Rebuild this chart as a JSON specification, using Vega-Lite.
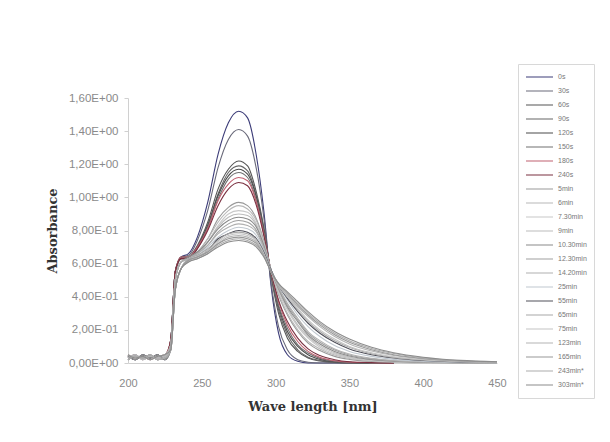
{
"$schema": "https://vega.github.io/schema/vega-lite/v6.json",
"width": 369, "height": 265,
"autosize": {"type": "none"},
"padding": {"left": 128, "top": 98, "right": 113, "bottom": 79},
"background": "#ffffff",
"config": {"view": {"stroke": null}},
"data": {"values": [
{"s":"0s","w":200,"a":0.04},{"s":"0s","w":205,"a":0.02},{"s":"0s","w":210,"a":0.05},{"s":"0s","w":215,"a":0.03},{"s":"0s","w":220,"a":0.05},{"s":"0s","w":225,"a":0.02},{"s":"0s","w":229,"a":0.14},{"s":"0s","w":232,"a":0.55},{"s":"0s","w":236,"a":0.64},{"s":"0s","w":241,"a":0.66},{"s":"0s","w":247,"a":0.76},{"s":"0s","w":254,"a":0.97},{"s":"0s","w":261,"a":1.26},{"s":"0s","w":268,"a":1.45},{"s":"0s","w":275,"a":1.52},{"s":"0s","w":281,"a":1.48},{"s":"0s","w":287,"a":1.25},{"s":"0s","w":292,"a":0.92},{"s":"0s","w":297,"a":0.46},{"s":"0s","w":302,"a":0.18},{"s":"0s","w":308,"a":0.05},{"s":"0s","w":315,"a":0.01},{"s":"0s","w":322,"a":0},{"s":"0s","w":330,"a":0},{"s":"0s","w":340,"a":0},{"s":"0s","w":350,"a":0},{"s":"0s","w":365,"a":0},{"s":"0s","w":380,"a":0},
{"s":"30s","w":200,"a":0.02},{"s":"30s","w":205,"a":0.04},{"s":"30s","w":210,"a":0.03},{"s":"30s","w":215,"a":0.05},{"s":"30s","w":220,"a":0.02},{"s":"30s","w":225,"a":0.03},{"s":"30s","w":229,"a":0.14},{"s":"30s","w":232,"a":0.55},{"s":"30s","w":236,"a":0.64},{"s":"30s","w":241,"a":0.65},{"s":"30s","w":247,"a":0.74},{"s":"30s","w":254,"a":0.92},{"s":"30s","w":261,"a":1.18},{"s":"30s","w":268,"a":1.35},{"s":"30s","w":275,"a":1.41},{"s":"30s","w":281,"a":1.37},{"s":"30s","w":287,"a":1.17},{"s":"30s","w":292,"a":0.88},{"s":"30s","w":297,"a":0.48},{"s":"30s","w":302,"a":0.22},{"s":"30s","w":308,"a":0.08},{"s":"30s","w":315,"a":0.02},{"s":"30s","w":322,"a":0.005},{"s":"30s","w":330,"a":0},{"s":"30s","w":340,"a":0},{"s":"30s","w":350,"a":0},{"s":"30s","w":365,"a":0},{"s":"30s","w":380,"a":0},
{"s":"60s","w":200,"a":0.05},{"s":"60s","w":205,"a":0.03},{"s":"60s","w":210,"a":0.04},{"s":"60s","w":215,"a":0.02},{"s":"60s","w":220,"a":0.04},{"s":"60s","w":225,"a":0.05},{"s":"60s","w":229,"a":0.14},{"s":"60s","w":232,"a":0.55},{"s":"60s","w":236,"a":0.63},{"s":"60s","w":241,"a":0.64},{"s":"60s","w":247,"a":0.71},{"s":"60s","w":254,"a":0.85},{"s":"60s","w":261,"a":1.05},{"s":"60s","w":268,"a":1.17},{"s":"60s","w":275,"a":1.22},{"s":"60s","w":281,"a":1.19},{"s":"60s","w":287,"a":1.03},{"s":"60s","w":292,"a":0.82},{"s":"60s","w":297,"a":0.52},{"s":"60s","w":302,"a":0.30},{"s":"60s","w":308,"a":0.15},{"s":"60s","w":315,"a":0.07},{"s":"60s","w":322,"a":0.03},{"s":"60s","w":330,"a":0.012},{"s":"60s","w":340,"a":0.004},{"s":"60s","w":350,"a":0},{"s":"60s","w":365,"a":0},{"s":"60s","w":380,"a":0},
{"s":"90s","w":200,"a":0.03},{"s":"90s","w":205,"a":0.05},{"s":"90s","w":210,"a":0.02},{"s":"90s","w":215,"a":0.04},{"s":"90s","w":220,"a":0.03},{"s":"90s","w":225,"a":0.04},{"s":"90s","w":229,"a":0.14},{"s":"90s","w":232,"a":0.55},{"s":"90s","w":236,"a":0.63},{"s":"90s","w":241,"a":0.63},{"s":"90s","w":247,"a":0.70},{"s":"90s","w":254,"a":0.83},{"s":"90s","w":261,"a":1.02},{"s":"90s","w":268,"a":1.15},{"s":"90s","w":275,"a":1.19},{"s":"90s","w":281,"a":1.16},{"s":"90s","w":287,"a":1.01},{"s":"90s","w":292,"a":0.81},{"s":"90s","w":297,"a":0.53},{"s":"90s","w":302,"a":0.32},{"s":"90s","w":308,"a":0.17},{"s":"90s","w":315,"a":0.08},{"s":"90s","w":322,"a":0.035},{"s":"90s","w":330,"a":0.015},{"s":"90s","w":340,"a":0.005},{"s":"90s","w":350,"a":0.002},{"s":"90s","w":365,"a":0},{"s":"90s","w":380,"a":0},
{"s":"120s","w":200,"a":0.04},{"s":"120s","w":205,"a":0.02},{"s":"120s","w":210,"a":0.05},{"s":"120s","w":215,"a":0.03},{"s":"120s","w":220,"a":0.05},{"s":"120s","w":225,"a":0.02},{"s":"120s","w":229,"a":0.14},{"s":"120s","w":232,"a":0.55},{"s":"120s","w":236,"a":0.64},{"s":"120s","w":241,"a":0.64},{"s":"120s","w":247,"a":0.70},{"s":"120s","w":254,"a":0.83},{"s":"120s","w":261,"a":1.01},{"s":"120s","w":268,"a":1.13},{"s":"120s","w":275,"a":1.17},{"s":"120s","w":281,"a":1.14},{"s":"120s","w":287,"a":1.00},{"s":"120s","w":292,"a":0.80},{"s":"120s","w":297,"a":0.54},{"s":"120s","w":302,"a":0.34},{"s":"120s","w":308,"a":0.19},{"s":"120s","w":315,"a":0.10},{"s":"120s","w":322,"a":0.05},{"s":"120s","w":330,"a":0.022},{"s":"120s","w":340,"a":0.008},{"s":"120s","w":350,"a":0.003},{"s":"120s","w":365,"a":0.001},{"s":"120s","w":380,"a":0},
{"s":"150s","w":200,"a":0.02},{"s":"150s","w":205,"a":0.04},{"s":"150s","w":210,"a":0.03},{"s":"150s","w":215,"a":0.05},{"s":"150s","w":220,"a":0.02},{"s":"150s","w":225,"a":0.03},{"s":"150s","w":229,"a":0.14},{"s":"150s","w":232,"a":0.55},{"s":"150s","w":236,"a":0.63},{"s":"150s","w":241,"a":0.63},{"s":"150s","w":247,"a":0.69},{"s":"150s","w":254,"a":0.82},{"s":"150s","w":261,"a":0.99},{"s":"150s","w":268,"a":1.11},{"s":"150s","w":275,"a":1.15},{"s":"150s","w":281,"a":1.12},{"s":"150s","w":287,"a":0.98},{"s":"150s","w":292,"a":0.79},{"s":"150s","w":297,"a":0.54},{"s":"150s","w":302,"a":0.35},{"s":"150s","w":308,"a":0.21},{"s":"150s","w":315,"a":0.11},{"s":"150s","w":322,"a":0.06},{"s":"150s","w":330,"a":0.028},{"s":"150s","w":340,"a":0.011},{"s":"150s","w":350,"a":0.004},{"s":"150s","w":365,"a":0.001},{"s":"150s","w":380,"a":0},
{"s":"180s","w":200,"a":0.05},{"s":"180s","w":205,"a":0.03},{"s":"180s","w":210,"a":0.04},{"s":"180s","w":215,"a":0.02},{"s":"180s","w":220,"a":0.04},{"s":"180s","w":225,"a":0.05},{"s":"180s","w":229,"a":0.14},{"s":"180s","w":232,"a":0.55},{"s":"180s","w":236,"a":0.64},{"s":"180s","w":241,"a":0.64},{"s":"180s","w":247,"a":0.70},{"s":"180s","w":254,"a":0.81},{"s":"180s","w":261,"a":0.98},{"s":"180s","w":268,"a":1.08},{"s":"180s","w":275,"a":1.12},{"s":"180s","w":281,"a":1.10},{"s":"180s","w":287,"a":0.97},{"s":"180s","w":292,"a":0.78},{"s":"180s","w":297,"a":0.55},{"s":"180s","w":302,"a":0.37},{"s":"180s","w":308,"a":0.23},{"s":"180s","w":315,"a":0.13},{"s":"180s","w":322,"a":0.07},{"s":"180s","w":330,"a":0.035},{"s":"180s","w":340,"a":0.014},{"s":"180s","w":350,"a":0.006},{"s":"180s","w":365,"a":0.002},{"s":"180s","w":380,"a":0},
{"s":"240s","w":200,"a":0.03},{"s":"240s","w":205,"a":0.05},{"s":"240s","w":210,"a":0.02},{"s":"240s","w":215,"a":0.04},{"s":"240s","w":220,"a":0.03},{"s":"240s","w":225,"a":0.04},{"s":"240s","w":229,"a":0.14},{"s":"240s","w":232,"a":0.55},{"s":"240s","w":236,"a":0.63},{"s":"240s","w":241,"a":0.63},{"s":"240s","w":247,"a":0.69},{"s":"240s","w":254,"a":0.80},{"s":"240s","w":261,"a":0.95},{"s":"240s","w":268,"a":1.05},{"s":"240s","w":275,"a":1.09},{"s":"240s","w":281,"a":1.07},{"s":"240s","w":287,"a":0.95},{"s":"240s","w":292,"a":0.77},{"s":"240s","w":297,"a":0.55},{"s":"240s","w":302,"a":0.38},{"s":"240s","w":308,"a":0.25},{"s":"240s","w":315,"a":0.15},{"s":"240s","w":322,"a":0.085},{"s":"240s","w":330,"a":0.045},{"s":"240s","w":340,"a":0.02},{"s":"240s","w":350,"a":0.008},{"s":"240s","w":365,"a":0.003},{"s":"240s","w":380,"a":0.001},
{"s":"5min","w":200,"a":0.04},{"s":"5min","w":205,"a":0.02},{"s":"5min","w":210,"a":0.05},{"s":"5min","w":215,"a":0.03},{"s":"5min","w":220,"a":0.05},{"s":"5min","w":225,"a":0.02},{"s":"5min","w":229,"a":0.11},{"s":"5min","w":232,"a":0.50},{"s":"5min","w":236,"a":0.61},{"s":"5min","w":241,"a":0.63},{"s":"5min","w":247,"a":0.67},{"s":"5min","w":254,"a":0.75},{"s":"5min","w":261,"a":0.87},{"s":"5min","w":268,"a":0.94},{"s":"5min","w":275,"a":0.97},{"s":"5min","w":281,"a":0.95},{"s":"5min","w":287,"a":0.87},{"s":"5min","w":292,"a":0.74},{"s":"5min","w":297,"a":0.56},{"s":"5min","w":302,"a":0.41},{"s":"5min","w":308,"a":0.29},{"s":"5min","w":315,"a":0.19},{"s":"5min","w":322,"a":0.12},{"s":"5min","w":330,"a":0.075},{"s":"5min","w":340,"a":0.04},{"s":"5min","w":350,"a":0.022},{"s":"5min","w":365,"a":0.01},{"s":"5min","w":380,"a":0.005},{"s":"5min","w":400,"a":0.002},{"s":"5min","w":425,"a":0.001},{"s":"5min","w":450,"a":0},
{"s":"6min","w":200,"a":0.02},{"s":"6min","w":205,"a":0.04},{"s":"6min","w":210,"a":0.03},{"s":"6min","w":215,"a":0.05},{"s":"6min","w":220,"a":0.02},{"s":"6min","w":225,"a":0.03},{"s":"6min","w":229,"a":0.11},{"s":"6min","w":232,"a":0.50},{"s":"6min","w":236,"a":0.61},{"s":"6min","w":241,"a":0.63},{"s":"6min","w":247,"a":0.67},{"s":"6min","w":254,"a":0.75},{"s":"6min","w":261,"a":0.85},{"s":"6min","w":268,"a":0.92},{"s":"6min","w":275,"a":0.95},{"s":"6min","w":281,"a":0.93},{"s":"6min","w":287,"a":0.86},{"s":"6min","w":292,"a":0.73},{"s":"6min","w":297,"a":0.56},{"s":"6min","w":302,"a":0.42},{"s":"6min","w":308,"a":0.30},{"s":"6min","w":315,"a":0.20},{"s":"6min","w":322,"a":0.13},{"s":"6min","w":330,"a":0.085},{"s":"6min","w":340,"a":0.048},{"s":"6min","w":350,"a":0.027},{"s":"6min","w":365,"a":0.012},{"s":"6min","w":380,"a":0.006},{"s":"6min","w":400,"a":0.003},{"s":"6min","w":425,"a":0.001},{"s":"6min","w":450,"a":0},
{"s":"7.30min","w":200,"a":0.05},{"s":"7.30min","w":205,"a":0.03},{"s":"7.30min","w":210,"a":0.04},{"s":"7.30min","w":215,"a":0.02},{"s":"7.30min","w":220,"a":0.04},{"s":"7.30min","w":225,"a":0.05},{"s":"7.30min","w":229,"a":0.11},{"s":"7.30min","w":232,"a":0.50},{"s":"7.30min","w":236,"a":0.61},{"s":"7.30min","w":241,"a":0.63},{"s":"7.30min","w":247,"a":0.66},{"s":"7.30min","w":254,"a":0.73},{"s":"7.30min","w":261,"a":0.83},{"s":"7.30min","w":268,"a":0.90},{"s":"7.30min","w":275,"a":0.92},{"s":"7.30min","w":281,"a":0.91},{"s":"7.30min","w":287,"a":0.84},{"s":"7.30min","w":292,"a":0.72},{"s":"7.30min","w":297,"a":0.56},{"s":"7.30min","w":302,"a":0.43},{"s":"7.30min","w":308,"a":0.32},{"s":"7.30min","w":315,"a":0.22},{"s":"7.30min","w":322,"a":0.15},{"s":"7.30min","w":330,"a":0.095},{"s":"7.30min","w":340,"a":0.055},{"s":"7.30min","w":350,"a":0.032},{"s":"7.30min","w":365,"a":0.015},{"s":"7.30min","w":380,"a":0.008},{"s":"7.30min","w":400,"a":0.004},{"s":"7.30min","w":425,"a":0.002},{"s":"7.30min","w":450,"a":0.001},
{"s":"9min","w":200,"a":0.03},{"s":"9min","w":205,"a":0.05},{"s":"9min","w":210,"a":0.02},{"s":"9min","w":215,"a":0.04},{"s":"9min","w":220,"a":0.03},{"s":"9min","w":225,"a":0.04},{"s":"9min","w":229,"a":0.11},{"s":"9min","w":232,"a":0.50},{"s":"9min","w":236,"a":0.61},{"s":"9min","w":241,"a":0.63},{"s":"9min","w":247,"a":0.66},{"s":"9min","w":254,"a":0.73},{"s":"9min","w":261,"a":0.82},{"s":"9min","w":268,"a":0.88},{"s":"9min","w":275,"a":0.90},{"s":"9min","w":281,"a":0.89},{"s":"9min","w":287,"a":0.83},{"s":"9min","w":292,"a":0.71},{"s":"9min","w":297,"a":0.56},{"s":"9min","w":302,"a":0.44},{"s":"9min","w":308,"a":0.33},{"s":"9min","w":315,"a":0.23},{"s":"9min","w":322,"a":0.16},{"s":"9min","w":330,"a":0.105},{"s":"9min","w":340,"a":0.062},{"s":"9min","w":350,"a":0.036},{"s":"9min","w":365,"a":0.018},{"s":"9min","w":380,"a":0.009},{"s":"9min","w":400,"a":0.004},{"s":"9min","w":425,"a":0.002},{"s":"9min","w":450,"a":0.001},
{"s":"10.30min","w":200,"a":0.04},{"s":"10.30min","w":205,"a":0.02},{"s":"10.30min","w":210,"a":0.05},{"s":"10.30min","w":215,"a":0.03},{"s":"10.30min","w":220,"a":0.05},{"s":"10.30min","w":225,"a":0.02},{"s":"10.30min","w":229,"a":0.11},{"s":"10.30min","w":232,"a":0.50},{"s":"10.30min","w":236,"a":0.61},{"s":"10.30min","w":241,"a":0.64},{"s":"10.30min","w":247,"a":0.67},{"s":"10.30min","w":254,"a":0.73},{"s":"10.30min","w":261,"a":0.81},{"s":"10.30min","w":268,"a":0.86},{"s":"10.30min","w":275,"a":0.88},{"s":"10.30min","w":281,"a":0.87},{"s":"10.30min","w":287,"a":0.82},{"s":"10.30min","w":292,"a":0.71},{"s":"10.30min","w":297,"a":0.56},{"s":"10.30min","w":302,"a":0.45},{"s":"10.30min","w":308,"a":0.34},{"s":"10.30min","w":315,"a":0.25},{"s":"10.30min","w":322,"a":0.17},{"s":"10.30min","w":330,"a":0.115},{"s":"10.30min","w":340,"a":0.07},{"s":"10.30min","w":350,"a":0.042},{"s":"10.30min","w":365,"a":0.021},{"s":"10.30min","w":380,"a":0.011},{"s":"10.30min","w":400,"a":0.005},{"s":"10.30min","w":425,"a":0.002},{"s":"10.30min","w":450,"a":0.001},
{"s":"12.30min","w":200,"a":0.02},{"s":"12.30min","w":205,"a":0.04},{"s":"12.30min","w":210,"a":0.03},{"s":"12.30min","w":215,"a":0.05},{"s":"12.30min","w":220,"a":0.02},{"s":"12.30min","w":225,"a":0.03},{"s":"12.30min","w":229,"a":0.11},{"s":"12.30min","w":232,"a":0.50},{"s":"12.30min","w":236,"a":0.61},{"s":"12.30min","w":241,"a":0.63},{"s":"12.30min","w":247,"a":0.66},{"s":"12.30min","w":254,"a":0.71},{"s":"12.30min","w":261,"a":0.79},{"s":"12.30min","w":268,"a":0.84},{"s":"12.30min","w":275,"a":0.86},{"s":"12.30min","w":281,"a":0.85},{"s":"12.30min","w":287,"a":0.80},{"s":"12.30min","w":292,"a":0.70},{"s":"12.30min","w":297,"a":0.56},{"s":"12.30min","w":302,"a":0.45},{"s":"12.30min","w":308,"a":0.35},{"s":"12.30min","w":315,"a":0.26},{"s":"12.30min","w":322,"a":0.18},{"s":"12.30min","w":330,"a":0.125},{"s":"12.30min","w":340,"a":0.078},{"s":"12.30min","w":350,"a":0.048},{"s":"12.30min","w":365,"a":0.025},{"s":"12.30min","w":380,"a":0.013},{"s":"12.30min","w":400,"a":0.006},{"s":"12.30min","w":425,"a":0.003},{"s":"12.30min","w":450,"a":0.001},
{"s":"14.20min","w":200,"a":0.05},{"s":"14.20min","w":205,"a":0.03},{"s":"14.20min","w":210,"a":0.04},{"s":"14.20min","w":215,"a":0.02},{"s":"14.20min","w":220,"a":0.04},{"s":"14.20min","w":225,"a":0.05},{"s":"14.20min","w":229,"a":0.11},{"s":"14.20min","w":232,"a":0.50},{"s":"14.20min","w":236,"a":0.61},{"s":"14.20min","w":241,"a":0.63},{"s":"14.20min","w":247,"a":0.66},{"s":"14.20min","w":254,"a":0.71},{"s":"14.20min","w":261,"a":0.78},{"s":"14.20min","w":268,"a":0.82},{"s":"14.20min","w":275,"a":0.84},{"s":"14.20min","w":281,"a":0.83},{"s":"14.20min","w":287,"a":0.79},{"s":"14.20min","w":292,"a":0.69},{"s":"14.20min","w":297,"a":0.56},{"s":"14.20min","w":302,"a":0.46},{"s":"14.20min","w":308,"a":0.36},{"s":"14.20min","w":315,"a":0.27},{"s":"14.20min","w":322,"a":0.19},{"s":"14.20min","w":330,"a":0.135},{"s":"14.20min","w":340,"a":0.085},{"s":"14.20min","w":350,"a":0.054},{"s":"14.20min","w":365,"a":0.029},{"s":"14.20min","w":380,"a":0.015},{"s":"14.20min","w":400,"a":0.007},{"s":"14.20min","w":425,"a":0.003},{"s":"14.20min","w":450,"a":0.001},
{"s":"25min","w":200,"a":0.03},{"s":"25min","w":205,"a":0.05},{"s":"25min","w":210,"a":0.02},{"s":"25min","w":215,"a":0.04},{"s":"25min","w":220,"a":0.03},{"s":"25min","w":225,"a":0.04},{"s":"25min","w":229,"a":0.08},{"s":"25min","w":232,"a":0.44},{"s":"25min","w":236,"a":0.57},{"s":"25min","w":241,"a":0.63},{"s":"25min","w":247,"a":0.65},{"s":"25min","w":254,"a":0.70},{"s":"25min","w":261,"a":0.76},{"s":"25min","w":268,"a":0.80},{"s":"25min","w":275,"a":0.82},{"s":"25min","w":281,"a":0.81},{"s":"25min","w":287,"a":0.77},{"s":"25min","w":292,"a":0.68},{"s":"25min","w":297,"a":0.56},{"s":"25min","w":302,"a":0.47},{"s":"25min","w":308,"a":0.38},{"s":"25min","w":315,"a":0.29},{"s":"25min","w":322,"a":0.22},{"s":"25min","w":330,"a":0.16},{"s":"25min","w":340,"a":0.105},{"s":"25min","w":350,"a":0.07},{"s":"25min","w":365,"a":0.04},{"s":"25min","w":380,"a":0.022},{"s":"25min","w":400,"a":0.011},{"s":"25min","w":425,"a":0.005},{"s":"25min","w":450,"a":0.002},
{"s":"55min","w":200,"a":0.04},{"s":"55min","w":205,"a":0.02},{"s":"55min","w":210,"a":0.05},{"s":"55min","w":215,"a":0.03},{"s":"55min","w":220,"a":0.05},{"s":"55min","w":225,"a":0.02},{"s":"55min","w":229,"a":0.08},{"s":"55min","w":232,"a":0.44},{"s":"55min","w":236,"a":0.57},{"s":"55min","w":241,"a":0.62},{"s":"55min","w":247,"a":0.64},{"s":"55min","w":254,"a":0.68},{"s":"55min","w":261,"a":0.75},{"s":"55min","w":268,"a":0.78},{"s":"55min","w":275,"a":0.80},{"s":"55min","w":281,"a":0.79},{"s":"55min","w":287,"a":0.75},{"s":"55min","w":292,"a":0.67},{"s":"55min","w":297,"a":0.56},{"s":"55min","w":302,"a":0.47},{"s":"55min","w":308,"a":0.39},{"s":"55min","w":315,"a":0.31},{"s":"55min","w":322,"a":0.24},{"s":"55min","w":330,"a":0.18},{"s":"55min","w":340,"a":0.125},{"s":"55min","w":350,"a":0.085},{"s":"55min","w":365,"a":0.05},{"s":"55min","w":380,"a":0.03},{"s":"55min","w":400,"a":0.015},{"s":"55min","w":425,"a":0.007},{"s":"55min","w":450,"a":0.003},
{"s":"65min","w":200,"a":0.02},{"s":"65min","w":205,"a":0.04},{"s":"65min","w":210,"a":0.03},{"s":"65min","w":215,"a":0.05},{"s":"65min","w":220,"a":0.02},{"s":"65min","w":225,"a":0.03},{"s":"65min","w":229,"a":0.08},{"s":"65min","w":232,"a":0.44},{"s":"65min","w":236,"a":0.57},{"s":"65min","w":241,"a":0.63},{"s":"65min","w":247,"a":0.65},{"s":"65min","w":254,"a":0.69},{"s":"65min","w":261,"a":0.74},{"s":"65min","w":268,"a":0.78},{"s":"65min","w":275,"a":0.79},{"s":"65min","w":281,"a":0.78},{"s":"65min","w":287,"a":0.74},{"s":"65min","w":292,"a":0.66},{"s":"65min","w":297,"a":0.55},{"s":"65min","w":302,"a":0.47},{"s":"65min","w":308,"a":0.40},{"s":"65min","w":315,"a":0.32},{"s":"65min","w":322,"a":0.25},{"s":"65min","w":330,"a":0.19},{"s":"65min","w":340,"a":0.135},{"s":"65min","w":350,"a":0.095},{"s":"65min","w":365,"a":0.056},{"s":"65min","w":380,"a":0.034},{"s":"65min","w":400,"a":0.018},{"s":"65min","w":425,"a":0.008},{"s":"65min","w":450,"a":0.004},
{"s":"75min","w":200,"a":0.05},{"s":"75min","w":205,"a":0.03},{"s":"75min","w":210,"a":0.04},{"s":"75min","w":215,"a":0.02},{"s":"75min","w":220,"a":0.04},{"s":"75min","w":225,"a":0.05},{"s":"75min","w":229,"a":0.08},{"s":"75min","w":232,"a":0.44},{"s":"75min","w":236,"a":0.57},{"s":"75min","w":241,"a":0.62},{"s":"75min","w":247,"a":0.64},{"s":"75min","w":254,"a":0.68},{"s":"75min","w":261,"a":0.73},{"s":"75min","w":268,"a":0.77},{"s":"75min","w":275,"a":0.78},{"s":"75min","w":281,"a":0.77},{"s":"75min","w":287,"a":0.74},{"s":"75min","w":292,"a":0.66},{"s":"75min","w":297,"a":0.55},{"s":"75min","w":302,"a":0.47},{"s":"75min","w":308,"a":0.40},{"s":"75min","w":315,"a":0.33},{"s":"75min","w":322,"a":0.26},{"s":"75min","w":330,"a":0.20},{"s":"75min","w":340,"a":0.145},{"s":"75min","w":350,"a":0.10},{"s":"75min","w":365,"a":0.062},{"s":"75min","w":380,"a":0.038},{"s":"75min","w":400,"a":0.02},{"s":"75min","w":425,"a":0.009},{"s":"75min","w":450,"a":0.004},
{"s":"123min","w":200,"a":0.03},{"s":"123min","w":205,"a":0.05},{"s":"123min","w":210,"a":0.02},{"s":"123min","w":215,"a":0.04},{"s":"123min","w":220,"a":0.03},{"s":"123min","w":225,"a":0.04},{"s":"123min","w":229,"a":0.08},{"s":"123min","w":232,"a":0.44},{"s":"123min","w":236,"a":0.57},{"s":"123min","w":241,"a":0.62},{"s":"123min","w":247,"a":0.64},{"s":"123min","w":254,"a":0.67},{"s":"123min","w":261,"a":0.72},{"s":"123min","w":268,"a":0.76},{"s":"123min","w":275,"a":0.77},{"s":"123min","w":281,"a":0.76},{"s":"123min","w":287,"a":0.73},{"s":"123min","w":292,"a":0.65},{"s":"123min","w":297,"a":0.55},{"s":"123min","w":302,"a":0.47},{"s":"123min","w":308,"a":0.41},{"s":"123min","w":315,"a":0.34},{"s":"123min","w":322,"a":0.28},{"s":"123min","w":330,"a":0.22},{"s":"123min","w":340,"a":0.16},{"s":"123min","w":350,"a":0.115},{"s":"123min","w":365,"a":0.072},{"s":"123min","w":380,"a":0.045},{"s":"123min","w":400,"a":0.024},{"s":"123min","w":425,"a":0.011},{"s":"123min","w":450,"a":0.005},
{"s":"165min","w":200,"a":0.04},{"s":"165min","w":205,"a":0.02},{"s":"165min","w":210,"a":0.05},{"s":"165min","w":215,"a":0.03},{"s":"165min","w":220,"a":0.05},{"s":"165min","w":225,"a":0.02},{"s":"165min","w":229,"a":0.08},{"s":"165min","w":232,"a":0.44},{"s":"165min","w":236,"a":0.57},{"s":"165min","w":241,"a":0.62},{"s":"165min","w":247,"a":0.64},{"s":"165min","w":254,"a":0.67},{"s":"165min","w":261,"a":0.72},{"s":"165min","w":268,"a":0.75},{"s":"165min","w":275,"a":0.76},{"s":"165min","w":281,"a":0.75},{"s":"165min","w":287,"a":0.72},{"s":"165min","w":292,"a":0.65},{"s":"165min","w":297,"a":0.55},{"s":"165min","w":302,"a":0.48},{"s":"165min","w":308,"a":0.42},{"s":"165min","w":315,"a":0.35},{"s":"165min","w":322,"a":0.29},{"s":"165min","w":330,"a":0.23},{"s":"165min","w":340,"a":0.17},{"s":"165min","w":350,"a":0.125},{"s":"165min","w":365,"a":0.08},{"s":"165min","w":380,"a":0.05},{"s":"165min","w":400,"a":0.027},{"s":"165min","w":425,"a":0.012},{"s":"165min","w":450,"a":0.006},
{"s":"243min*","w":200,"a":0.02},{"s":"243min*","w":205,"a":0.04},{"s":"243min*","w":210,"a":0.03},{"s":"243min*","w":215,"a":0.05},{"s":"243min*","w":220,"a":0.02},{"s":"243min*","w":225,"a":0.03},{"s":"243min*","w":229,"a":0.08},{"s":"243min*","w":232,"a":0.44},{"s":"243min*","w":236,"a":0.57},{"s":"243min*","w":241,"a":0.61},{"s":"243min*","w":247,"a":0.63},{"s":"243min*","w":254,"a":0.66},{"s":"243min*","w":261,"a":0.71},{"s":"243min*","w":268,"a":0.74},{"s":"243min*","w":275,"a":0.75},{"s":"243min*","w":281,"a":0.74},{"s":"243min*","w":287,"a":0.71},{"s":"243min*","w":292,"a":0.65},{"s":"243min*","w":297,"a":0.55},{"s":"243min*","w":302,"a":0.48},{"s":"243min*","w":308,"a":0.42},{"s":"243min*","w":315,"a":0.36},{"s":"243min*","w":322,"a":0.30},{"s":"243min*","w":330,"a":0.24},{"s":"243min*","w":340,"a":0.18},{"s":"243min*","w":350,"a":0.135},{"s":"243min*","w":365,"a":0.088},{"s":"243min*","w":380,"a":0.057},{"s":"243min*","w":400,"a":0.031},{"s":"243min*","w":425,"a":0.014},{"s":"243min*","w":450,"a":0.007},
{"s":"303min*","w":200,"a":0.05},{"s":"303min*","w":205,"a":0.03},{"s":"303min*","w":210,"a":0.04},{"s":"303min*","w":215,"a":0.02},{"s":"303min*","w":220,"a":0.04},{"s":"303min*","w":225,"a":0.05},{"s":"303min*","w":229,"a":0.08},{"s":"303min*","w":232,"a":0.44},{"s":"303min*","w":236,"a":0.57},{"s":"303min*","w":241,"a":0.61},{"s":"303min*","w":247,"a":0.63},{"s":"303min*","w":254,"a":0.66},{"s":"303min*","w":261,"a":0.70},{"s":"303min*","w":268,"a":0.73},{"s":"303min*","w":275,"a":0.74},{"s":"303min*","w":281,"a":0.73},{"s":"303min*","w":287,"a":0.70},{"s":"303min*","w":292,"a":0.64},{"s":"303min*","w":297,"a":0.55},{"s":"303min*","w":302,"a":0.48},{"s":"303min*","w":308,"a":0.43},{"s":"303min*","w":315,"a":0.37},{"s":"303min*","w":322,"a":0.31},{"s":"303min*","w":330,"a":0.25},{"s":"303min*","w":340,"a":0.19},{"s":"303min*","w":350,"a":0.145},{"s":"303min*","w":365,"a":0.095},{"s":"303min*","w":380,"a":0.062},{"s":"303min*","w":400,"a":0.035},{"s":"303min*","w":425,"a":0.016},{"s":"303min*","w":450,"a":0.008}
]},
"mark": {"type": "line", "interpolate": "monotone", "strokeWidth": 1.1},
"encoding": {
  "x": {"field": "w", "type": "quantitative",
    "scale": {"domain": [200, 450], "nice": false, "zero": false},
    "axis": {"title": "Wave length [nm]", "values": [200, 250, 300, 350, 400, 450], "ticks": false, "grid": false,
      "domainColor": "#d0d0d0", "labelFont": "Liberation Sans", "labelFontSize": 11, "labelColor": "#8a8a8a",
      "labelPadding": 14, "labelFlush": false, "titleFont": "DejaVu Serif", "titleFontSize": 13,
      "titleFontWeight": "bold", "titleColor": "#333333", "titlePadding": 12}},
  "y": {"field": "a", "type": "quantitative",
    "scale": {"domain": [0, 1.6], "nice": false},
    "axis": {"title": "Absorbance", "values": [0, 0.2, 0.4, 0.6, 0.8, 1, 1.2, 1.4, 1.6], "grid": false,
      "tickSize": 4, "tickColor": "#d0d0d0", "domainColor": "#d0d0d0",
      "labelFont": "Liberation Sans", "labelFontSize": 11.5, "labelColor": "#8a8a8a", "labelPadding": 6,
      "labelExpr": "datum.value == 0 ? '0,00E+00' : (datum.value < 0.99 ? replace(format(datum.value * 10, '.2f'), '.', ',') + 'E-01' : replace(format(datum.value, '.2f'), '.', ',') + 'E+00')",
      "titleFont": "DejaVu Serif", "titleFontSize": 13, "titleFontWeight": "bold", "titleColor": "#333333", "titlePadding": 9}},
  "color": {"field": "s", "type": "nominal",
    "scale": {
      "domain": ["0s","30s","60s","90s","120s","150s","180s","240s","5min","6min","7.30min","9min","10.30min","12.30min","14.20min","25min","55min","65min","75min","123min","165min","243min*","303min*"],
      "range": ["#3c3c78","#6a6a7a","#555555","#666666","#4a4a4a","#707070","#c06070","#7a3040","#9a9a9a","#b8b8b8","#c8c8c8","#bcbcbc","#8a8a8a","#a0a0a0","#b0b0b0","#c0c8d0","#50505a","#a8a8a8","#c4c4c4","#b4b4b4","#989898","#acacac","#8c8c8c"]},
    "legend": {"title": null, "orient": "none", "legendX": 390, "legendY": -34, "symbolType": "stroke", "symbolSize": 729,
      "symbolStrokeWidth": 1.2, "labelFont": "Liberation Sans", "labelFontSize": 7, "labelColor": "#777777",
      "clipHeight": 12, "rowPadding": 2, "padding": 7, "strokeColor": "#d8d8d8", "labelOffset": 4}}
}
}
